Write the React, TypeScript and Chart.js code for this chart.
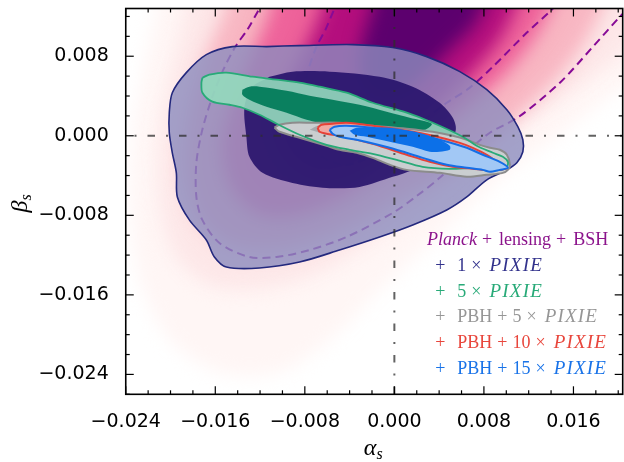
import React, { useEffect, useRef } from 'react';
import { Chart, registerables } from 'chart.js';

Chart.register(...registerables);

type Pt = [number, number];

// ---------- axes ----------
const xRange: [number, number] = [-0.024, 0.0204];
const yRange: [number, number] = [-0.026, 0.0128];
const xTickValues = [-0.024, -0.016, -0.008, 0, 0.008, 0.016];
const yTickValues = [-0.024, -0.016, -0.008, 0, 0.008];
const minorStep = 0.002;
const fiducialAlpha = 0;
const fiducialBeta = 0;

// ---------- Planck + lensing + BSH posterior (density levels, outer -> inner) ----------
const planckBand0: Pt[] = [
  [-0.02051, 0.01672], [-0.02185, 0.00967], [-0.02319, 0.00161], [-0.02364, -0.00645],
  [-0.02274, -0.0145], [-0.02006, -0.02054], [-0.0156, -0.02377], [-0.01024, -0.02377],
  [-0.00578, -0.02054], [-0.00131, -0.01551], [0.00404, -0.00997], [0.0094, -0.00443],
  [0.01476, 0.0001], [0.02012, 0.00463], [0.02547, 0.00765], [0.02726, 0.01672],
];
const planckBand1: Pt[] = [
  [-0.01783, 0.01672], [-0.01917, 0.00967], [-0.02078, 0.00161], [-0.02096, -0.00645],
  [-0.01962, -0.01198], [-0.01649, -0.015], [-0.01158, -0.01531], [-0.00667, -0.0137],
  [-0.00131, -0.00997], [0.00404, -0.00544], [0.0094, -0.0004], [0.01476, 0.00363],
  [0.02012, 0.00816], [0.02369, 0.01269], [0.02369, 0.01672],
];
const planckBand2: Pt[] = [
  [-0.01426, 0.01672], [-0.01515, 0.01269], [-0.01694, 0.00765], [-0.01826, 0.00262],
  [-0.01872, -0.00342], [-0.01738, -0.00846], [-0.0147, -0.01098], [-0.01024, -0.01148],
  [-0.00488, -0.00967], [0.00047, -0.00644], [0.00583, -0.00292], [0.01119, 0.00211],
  [0.01521, 0.00665], [0.01788, 0.01118], [0.01922, 0.01672],
];
const planckBand3: Pt[] = [
  [-0.01024, 0.01672], [-0.01113, 0.01269], [-0.01292, 0.00765], [-0.0147, 0.00262],
  [-0.01542, -0.00141], [-0.01453, -0.00544], [-0.01203, -0.00796], [-0.00846, -0.00796],
  [-0.00399, -0.00594], [0.00047, -0.00242], [0.00494, 0.00141], [0.0094, 0.00564],
  [0.01208, 0.00916], [0.01387, 0.01269], [0.01476, 0.01672],
];
const planckBand4: Pt[] = [
  [-0.00578, 0.01672], [-0.00649, 0.01269], [-0.00801, 0.00866], [-0.00979, 0.00463],
  [-0.01042, 0.0006], [-0.00917, -0.00242], [-0.00667, -0.00393], [-0.0031, -0.00292],
  [0.00047, -0.0001], [0.00404, 0.00312], [0.00717, 0.00665], [0.0094, 0.00967],
  [0.01074, 0.01269], [0.01164, 0.01672],
];
const planckBand5: Pt[] = [
  [-0.00131, 0.01672], [-0.00203, 0.01269], [-0.00292, 0.00916], [-0.0031, 0.00614],
  [-0.00176, 0.00413], [0.00047, 0.00413], [0.00271, 0.00614], [0.00538, 0.00916],
  [0.00744, 0.01168], [0.00851, 0.01672],
];
const planckBands = [planckBand0, planckBand1, planckBand2, planckBand3, planckBand4, planckBand5];

const planck1Sigma: Pt[] = [
  [-0.0049, 0.0137], [-0.00534, 0.0128], [-0.00615, 0.01068], [-0.00695, 0.00897],
  [-0.00776, 0.00635], [-0.0082, 0.00363], [-0.00793, 0.0006], [-0.00668, -0.00191],
  [-0.00445, -0.00292], [-0.00177, -0.00191], [0.00047, -0.0001], [0.00289, 0.00181],
  [0.00468, 0.00332], [0.00674, 0.00484], [0.0088, 0.00695], [0.01184, 0.01038],
  [0.01408, 0.0127], [0.01479, 0.0137],
];
const planck2Sigma: Pt[] = [
  [-0.01161, 0.0137], [-0.01205, 0.0128], [-0.01313, 0.01068], [-0.0142, 0.00897],
  [-0.01528, 0.00665], [-0.01626, 0.00393], [-0.01716, 0.0006], [-0.01769, -0.00272],
  [-0.01769, -0.00615], [-0.01716, -0.00846], [-0.01563, -0.01078], [-0.01295, -0.01219],
  [-0.01053, -0.01219], [-0.00758, -0.01149], [-0.00427, -0.01018], [-0.00015, -0.00776],
  [0.002, -0.00605], [0.00405, -0.00423], [0.00647, -0.00161], [0.00853, 0.0003],
  [0.01112, 0.00191], [0.01479, 0.00534], [0.01775, 0.00897], [0.02016, 0.01199],
  [0.02105, 0.013],
];

// ---------- + 1 x PIXIE ----------
const pixie1Outer: Pt[] = [
  [-0.01143, 0.00897], [-0.01447, 0.00897], [-0.0168, 0.00816], [-0.01859, 0.00635],
  [-0.01984, 0.00433], [-0.02011, 0.00232], [-0.02011, 0.0003], [-0.01984, -0.00171],
  [-0.01948, -0.00373], [-0.01939, -0.00615], [-0.01832, -0.00846], [-0.0168, -0.01048],
  [-0.01608, -0.01219], [-0.01501, -0.0132], [-0.01205, -0.0133], [-0.00847, -0.0127],
  [-0.0049, -0.01149], [-0.00132, -0.01018], [0.00164, -0.00897], [0.00468, -0.00746],
  [0.00647, -0.00615], [0.00826, -0.00443], [0.01005, -0.00343], [0.01094, -0.00272],
  [0.01148, -0.00161], [0.01148, -0.0004], [0.01103, 0.00091], [0.01005, 0.00262],
  [0.00826, 0.00463], [0.00585, 0.00645], [0.00289, 0.00796], [-0.00015, 0.00887],
  [-0.00373, 0.00917], [-0.00847, 0.00907],
];
const pixie1Inner: Pt[] = [
  [-0.01116, 0.00594], [-0.0091, 0.00645], [-0.00579, 0.00645], [-0.00132, 0.00594],
  [0.00164, 0.00494], [0.00405, 0.00332], [0.00522, 0.00181], [0.00549, 0.0006],
  [0.00477, -0.00121], [0.00316, -0.00262], [0.00164, -0.00343], [-0.00015, -0.00413],
  [-0.00311, -0.00514], [-0.00606, -0.00524], [-0.0091, -0.00474], [-0.01178, -0.00373],
  [-0.01295, -0.00212], [-0.01322, -0.0001], [-0.0134, 0.00282], [-0.01277, 0.00484],
];

// ---------- + 5 x PIXIE ----------
const pixie5Outer: Pt[] = [
  [-0.01715, 0.00584], [-0.01653, 0.00615], [-0.01501, 0.00635], [-0.01268, 0.00594],
  [-0.01053, 0.00564], [-0.00847, 0.00534], [-0.00668, 0.00494], [-0.00427, 0.00433],
  [-0.00194, 0.00332], [0.0011, 0.00232], [0.00343, 0.00131], [0.00611, -0.0001],
  [0.00735, -0.00101], [0.0088, -0.00171], [0.00969, -0.00212], [0.01014, -0.00262],
  [0.01005, -0.00312], [0.00942, -0.00343], [0.00826, -0.00322], [0.00701, -0.00322],
  [0.00495, -0.00332], [0.00253, -0.00312], [0.00021, -0.00242], [-0.00194, -0.00181],
  [-0.00399, -0.00141], [-0.00606, -0.00091], [-0.00847, 0.0001], [-0.01051, 0.00121],
  [-0.01205, 0.00212], [-0.01358, 0.00282], [-0.01474, 0.00312], [-0.01626, 0.00343],
  [-0.01715, 0.00433], [-0.01724, 0.00534],
];
const pixie5Inner: Pt[] = [
  [-0.01358, 0.00463], [-0.01295, 0.00494], [-0.01205, 0.00494], [-0.00963, 0.00453],
  [-0.00758, 0.00403], [-0.00552, 0.00363], [-0.00311, 0.00312], [-0.00069, 0.00242],
  [0.00137, 0.00181], [0.00334, 0.00121], [0.00271, 0.0006], [0.00047, 0.0006],
  [-0.00221, 0.00081], [-0.0049, 0.00101], [-0.00668, 0.00131], [-0.00784, 0.00161],
  [-0.00963, 0.00232], [-0.01143, 0.00292], [-0.01295, 0.00363], [-0.01358, 0.00413],
];

// ---------- + PBH + 5 x PIXIE ----------
const pbh5Outer: Pt[] = [
  [-0.01071, 0.00081], [-0.01026, 0.00111], [-0.0091, 0.00131], [-0.00731, 0.00131],
  [-0.0049, 0.00131], [-0.00194, 0.00101], [0.0011, 0.00071], [0.00343, 0.0004],
  [0.00522, 0.0], [0.00647, -0.0004], [0.00763, -0.00091], [0.00853, -0.00121],
  [0.00942, -0.00141], [0.01005, -0.00191], [0.01032, -0.00292], [0.01014, -0.00343],
  [0.00969, -0.00373], [0.00826, -0.00393], [0.00647, -0.00413], [0.00405, -0.00373],
  [0.0011, -0.00343], [-0.00042, -0.00292], [-0.00194, -0.00222], [-0.00337, -0.00171],
  [-0.0049, -0.00141], [-0.00606, -0.00101], [-0.00847, -0.0002], [-0.01026, 0.0004],
];
const pbh5Inner: Pt[] = [
  [-0.00756, 0.0006], [-0.00685, 0.00101], [-0.00488, 0.00111], [-0.00265, 0.00091],
  [-0.00042, 0.0006], [0.00047, 0.0002], [-0.00131, -0.0001], [-0.00399, 0.0],
  [-0.00622, 0.0002],
];

// ---------- + PBH + 10 x PIXIE ----------
const pbh10Outer: Pt[] = [
  [-0.00686, 0.00081], [-0.00651, 0.00111], [-0.00552, 0.00121], [-0.00427, 0.00131],
  [-0.00194, 0.00101], [0.0011, 0.0005], [0.00343, 0.0], [0.00585, -0.00071],
  [0.00701, -0.00121], [0.00826, -0.00191], [0.00916, -0.00262], [0.01005, -0.00322],
  [0.00942, -0.00343], [0.00826, -0.00343], [0.00701, -0.00332], [0.00522, -0.00312],
  [0.00316, -0.00262], [0.0011, -0.00191], [-0.00194, -0.00081], [-0.0049, 0.0],
  [-0.00606, 0.0002], [-0.00668, 0.0004],
];

// ---------- + PBH + 15 x PIXIE ----------
const pbh15Outer: Pt[] = [
  [-0.00579, 0.0006], [-0.00534, 0.00091], [-0.00427, 0.00101], [-0.00194, 0.00081],
  [0.0011, 0.0004], [0.00405, -0.0004], [0.00647, -0.00121], [0.0079, -0.00191],
  [0.00942, -0.00262], [0.01014, -0.00322], [0.00942, -0.00343], [0.00853, -0.00363],
  [0.0079, -0.00343], [0.00647, -0.00322], [0.00468, -0.00292], [0.00253, -0.00222],
  [-0.00042, -0.00121], [-0.00337, -0.0004], [-0.0049, -0.0001], [-0.00552, 0.0002],
];
const pbh15Inner: Pt[] = [
  [-0.004, 0.0005], [-0.00337, 0.00081], [-0.00194, 0.00081], [-0.00042, 0.00081],
  [0.00137, 0.0005], [0.00253, 0.0002], [0.00405, -0.0004], [0.00495, -0.00101],
  [0.00495, -0.00141], [0.00405, -0.00161], [0.00316, -0.00161], [0.00164, -0.00111],
  [-0.00042, -0.0006], [-0.00248, -0.0001], [-0.00355, 0.0001],
];

// ---------- legend ----------
const legendLabels = [
  'Planck + lensing + BSH',
  '+ 1 × PIXIE',
  '+ 5 × PIXIE',
  '+ PBH + 5 × PIXIE',
  '+ PBH + 10 × PIXIE',
  '+ PBH + 15 × PIXIE',
];
const legendColors = [
  'rgb(140,20,140)',
  'rgb(50,50,140)',
  'rgb(40,170,120)',
  'rgb(150,150,150)',
  'rgb(232,70,60)',
  'rgb(25,115,232)',
];
const italicWords = ['Planck', 'PIXIE'];

// ---------- styles ----------
const bandColors = [
  'rgb(255,246,245)',
  'rgb(253,231,232)',
  'rgb(248,182,194)',
  'rgb(238,98,154)',
  'rgb(180,14,125)',
  'rgb(92,0,110)',
];

const toXY = (pts: Pt[], close: boolean) => {
  const arr = pts.map(([x, y]) => ({ x, y }));
  if (close) arr.push({ x: pts[0][0], y: pts[0][1] });
  return arr;
};

const fmt = (v: number) => (v < -1e-12 ? '\u2212' : '') + Math.abs(v).toFixed(3);

const polyFillPlugin = {
  id: 'polyFill',
  beforeDatasetDraw(chart: any, args: any) {
    const ds = chart.data.datasets[args.index];
    if (!ds || !ds.polyFill) return;
    const line = args.meta.dataset;
    if (!line) return;
    const ctx = chart.ctx;
    const a = chart.chartArea;
    line.updateControlPoints(a, 'x');
    ctx.save();
    ctx.beginPath();
    ctx.rect(a.left, a.top, a.right - a.left, a.bottom - a.top);
    ctx.clip();
    if (ds.blur) ctx.filter = `blur(${ds.blur}px)`;
    ctx.fillStyle = ds.polyFill;
    ctx.beginPath();
    line.path(ctx);
    ctx.closePath();
    ctx.fill();
    ctx.restore();
  },
};

const framePlugin = {
  id: 'frameTicks',
  afterDatasetsDraw(chart: any) {
    const { ctx, chartArea: a, scales } = chart;
    const xs = scales.x;
    const ys = scales.y;
    ctx.save();
    ctx.strokeStyle = '#000';
    ctx.lineWidth = 1.2;
    const seg = (x1: number, y1: number, x2: number, y2: number) => {
      ctx.beginPath();
      ctx.moveTo(x1, y1);
      ctx.lineTo(x2, y2);
      ctx.stroke();
    };
    const isMajor = (list: number[], v: number) => list.some((t) => Math.abs(t - v) < 1e-9);
    for (let k = Math.ceil(xRange[0] / minorStep - 1e-9); k <= Math.floor(xRange[1] / minorStep + 1e-9); k++) {
      const v = k * minorStep;
      const p = xs.getPixelForValue(v);
      const len = isMajor(xTickValues, v) ? 8 : 4;
      seg(p, a.bottom, p, a.bottom - len);
      seg(p, a.top, p, a.top + len);
    }
    for (let k = Math.ceil(yRange[0] / minorStep - 1e-9); k <= Math.floor(yRange[1] / minorStep + 1e-9); k++) {
      const v = k * minorStep;
      const p = ys.getPixelForValue(v);
      const len = isMajor(yTickValues, v) ? 8 : 4;
      seg(a.left, p, a.left + len, p);
      seg(a.right, p, a.right - len, p);
    }
    ctx.lineWidth = 1.6;
    ctx.strokeRect(a.left, a.top, a.right - a.left, a.bottom - a.top);
    ctx.restore();
  },
  afterDraw(chart: any) {
    const { ctx, chartArea: a } = chart;
    ctx.save();
    // axis titles
    const big = 'italic 24px "Liberation Serif"';
    const small = 'italic 16px "Liberation Serif"';
    ctx.fillStyle = '#000';
    ctx.textBaseline = 'alphabetic';
    ctx.textAlign = 'left';
    ctx.font = big;
    const wA = ctx.measureText('α').width;
    ctx.font = small;
    const wS = ctx.measureText('s').width;
    const cx = (a.left + a.right) / 2 - 1;
    const bx = a.bottom + 61;
    ctx.font = big;
    ctx.fillText('α', cx - (wA + wS) / 2, bx);
    ctx.font = small;
    ctx.fillText('s', cx - (wA + wS) / 2 + wA, bx + 4);

    ctx.save();
    ctx.translate(a.left - 99, (a.top + a.bottom) / 2 + 2);
    ctx.rotate(-Math.PI / 2);
    ctx.font = big;
    const wB = ctx.measureText('β').width;
    ctx.fillText('β', -(wB + wS) / 2, 0);
    ctx.font = small;
    ctx.fillText('s', -(wB + wS) / 2 + wB, 4);
    ctx.restore();

    // legend text
    const reg = '18px "Liberation Serif"';
    const ita = 'italic 18px "Liberation Serif"';
    const itaWide = 'italic 19px "Liberation Serif"';
    legendLabels.forEach((label, i) => {
      const tokens = label.split(' ');
      const fontOf = (t: string) => (t === 'PIXIE' ? itaWide : italicWords.includes(t) ? ita : reg);
      const spacingOf = (t: string) => (t === 'PIXIE' ? '1.2px' : '0px');
      const widths: number[] = [];
      const gaps: number[] = [];
      tokens.forEach((t, j) => {
        ctx.font = fontOf(t);
        (ctx as any).letterSpacing = spacingOf(t);
        widths.push(ctx.measureText(t).width);
        let g = 5;
        if (j === 0 && t === '+') g = 12;
        if (j < tokens.length - 1 && tokens[j + 1] === 'PIXIE') g = 8;
        if (t === '+' && j > 0 && i === 0) g = 7;
        gaps.push(j < tokens.length - 1 ? g : 0);
      });
      const total = widths.reduce((s, w) => s + w, 0) + gaps.reduce((s, g) => s + g, 0);
      let x = i === 0 ? a.right - 14.5 - total : a.right - 187.5;
      const y = a.bottom - 149.3 + i * 25.8;
      ctx.fillStyle = legendColors[i];
      tokens.forEach((t, j) => {
        ctx.font = fontOf(t);
        (ctx as any).letterSpacing = spacingOf(t);
        ctx.fillText(t, x, y);
        x += widths[j] + gaps[j];
      });
    });
    (ctx as any).letterSpacing = '0px';
    ctx.restore();
  },
};

export default function App() {
  const ref = useRef<HTMLCanvasElement>(null);
  useEffect(() => {
    const datasets: any[] = [];
    planckBands.forEach((band, i) => {
      datasets.push({
        data: toXY(band, true),
        polyFill: bandColors[i],
        blur: 9,
        borderWidth: 0,
        tension: 0.3,
      });
    });
    datasets.push({
      data: toXY(planck2Sigma, false),
      borderColor: 'rgb(135,10,150)',
      borderWidth: 2,
      borderDash: [8, 5],
      tension: 0.3,
    });
    datasets.push({
      data: toXY(planck1Sigma, false),
      borderColor: 'rgb(135,10,150)',
      borderWidth: 2,
      borderDash: [8, 5],
      tension: 0.3,
    });
    datasets.push({
      data: toXY(pixie1Outer, true),
      polyFill: 'rgba(140,140,190,0.8)',
      borderColor: 'rgb(35,40,125)',
      borderWidth: 1.6,
      tension: 0.3,
    });
    datasets.push({
      data: toXY(pixie1Inner, true),
      polyFill: 'rgba(35,15,105,0.88)',
      borderWidth: 0,
      tension: 0.3,
    });
    datasets.push({
      data: toXY(pixie5Outer, true),
      polyFill: 'rgba(147,218,189,0.9)',
      borderWidth: 0,
      tension: 0.3,
    });
    datasets.push({
      data: toXY(pixie5Inner, true),
      polyFill: 'rgba(5,125,92,0.96)',
      borderWidth: 0,
      tension: 0.3,
    });
    datasets.push({
      data: toXY(pbh5Outer, true),
      polyFill: 'rgb(202,206,208)',
      borderColor: 'rgb(140,140,140)',
      borderWidth: 2,
      tension: 0.3,
    });
    datasets.push({
      data: toXY(pixie5Outer, true),
      borderColor: 'rgb(40,170,120)',
      borderWidth: 1.8,
      tension: 0.3,
    });
    datasets.push({
      data: toXY(pbh5Inner, true),
      polyFill: 'rgb(165,170,174)',
      borderWidth: 0,
      tension: 0.3,
    });
    datasets.push({
      data: toXY(pbh10Outer, true),
      polyFill: 'rgb(240,168,162)',
      borderColor: 'rgb(230,65,55)',
      borderWidth: 2,
      tension: 0.3,
    });
    datasets.push({
      data: toXY(pbh15Outer, true),
      polyFill: 'rgb(162,200,245)',
      borderColor: 'rgb(20,110,230)',
      borderWidth: 2,
      tension: 0.3,
    });
    datasets.push({
      data: toXY(pbh15Inner, true),
      polyFill: 'rgb(12,112,232)',
      borderWidth: 0,
      tension: 0.3,
    });
    datasets.push({
      data: [{ x: xRange[0], y: fiducialBeta }, { x: xRange[1], y: fiducialBeta }],
      borderColor: 'rgba(45,45,45,0.75)',
      borderWidth: 2,
      borderDash: [7.5, 11, 2, 11],
      borderDashOffset: 9.75,
      tension: 0,
    });
    datasets.push({
      data: [{ x: fiducialAlpha, y: yRange[1] }, { x: fiducialAlpha, y: yRange[0] }],
      borderColor: 'rgba(45,45,45,0.75)',
      borderWidth: 2,
      borderDash: [7.5, 11, 2, 11],
      tension: 0,
    });
    const n = datasets.length;
    datasets.forEach((d, i) => {
      d.order = n - i;
      d.showLine = true;
      d.pointRadius = 0;
      d.capBezierPoints = false;
      d.fill = false;
      if (!d.borderColor) d.borderColor = 'rgba(0,0,0,0)';
    });

    const chart = new Chart(ref.current as HTMLCanvasElement, {
      type: 'scatter',
      data: { datasets },
      options: {
        animation: false,
        responsive: false,
        events: [],
        layout: { padding: { top: 8.5, right: 1.3, left: 0, bottom: 0 } },
        plugins: { legend: { display: false }, tooltip: { enabled: false } },
        elements: { point: { radius: 0 } },
        scales: {
          x: {
            type: 'linear',
            min: xRange[0],
            max: xRange[1],
            grid: { display: false },
            border: { display: false },
            afterBuildTicks: (s: any) => {
              s.ticks = xTickValues.map((v) => ({ value: v }));
            },
            afterFit: (s: any) => {
              s.height = 67.7;
              s.paddingLeft = 0;
              s.paddingRight = 0;
            },
            ticks: {
              autoSkip: false,
              maxRotation: 0,
              padding: 8,
              color: '#000',
              font: { family: '"DejaVu Sans"', size: 19 },
              callback: (v: any) => fmt(Number(v)),
            },
          },
          y: {
            type: 'linear',
            min: yRange[0],
            max: yRange[1],
            grid: { display: false },
            border: { display: false },
            afterBuildTicks: (s: any) => {
              s.ticks = yTickValues.map((v) => ({ value: v }));
            },
            afterFit: (s: any) => {
              s.width = 125.75;
              s.paddingTop = 0;
              s.paddingBottom = 0;
            },
            ticks: {
              autoSkip: false,
              padding: 9,
              color: '#000',
              font: { family: '"DejaVu Sans"', size: 19 },
              callback: (v: any) => fmt(Number(v)),
            },
          },
        },
      } as any,
      plugins: [polyFillPlugin, framePlugin] as any,
    });
    return () => chart.destroy();
  }, []);
  return (
    <div style={{ position: 'fixed', left: 0, top: 0, width: 624, height: 462, background: '#fff' }}>
      <canvas ref={ref} width={624} height={462} style={{ display: 'block' }} />
    </div>
  );
}
